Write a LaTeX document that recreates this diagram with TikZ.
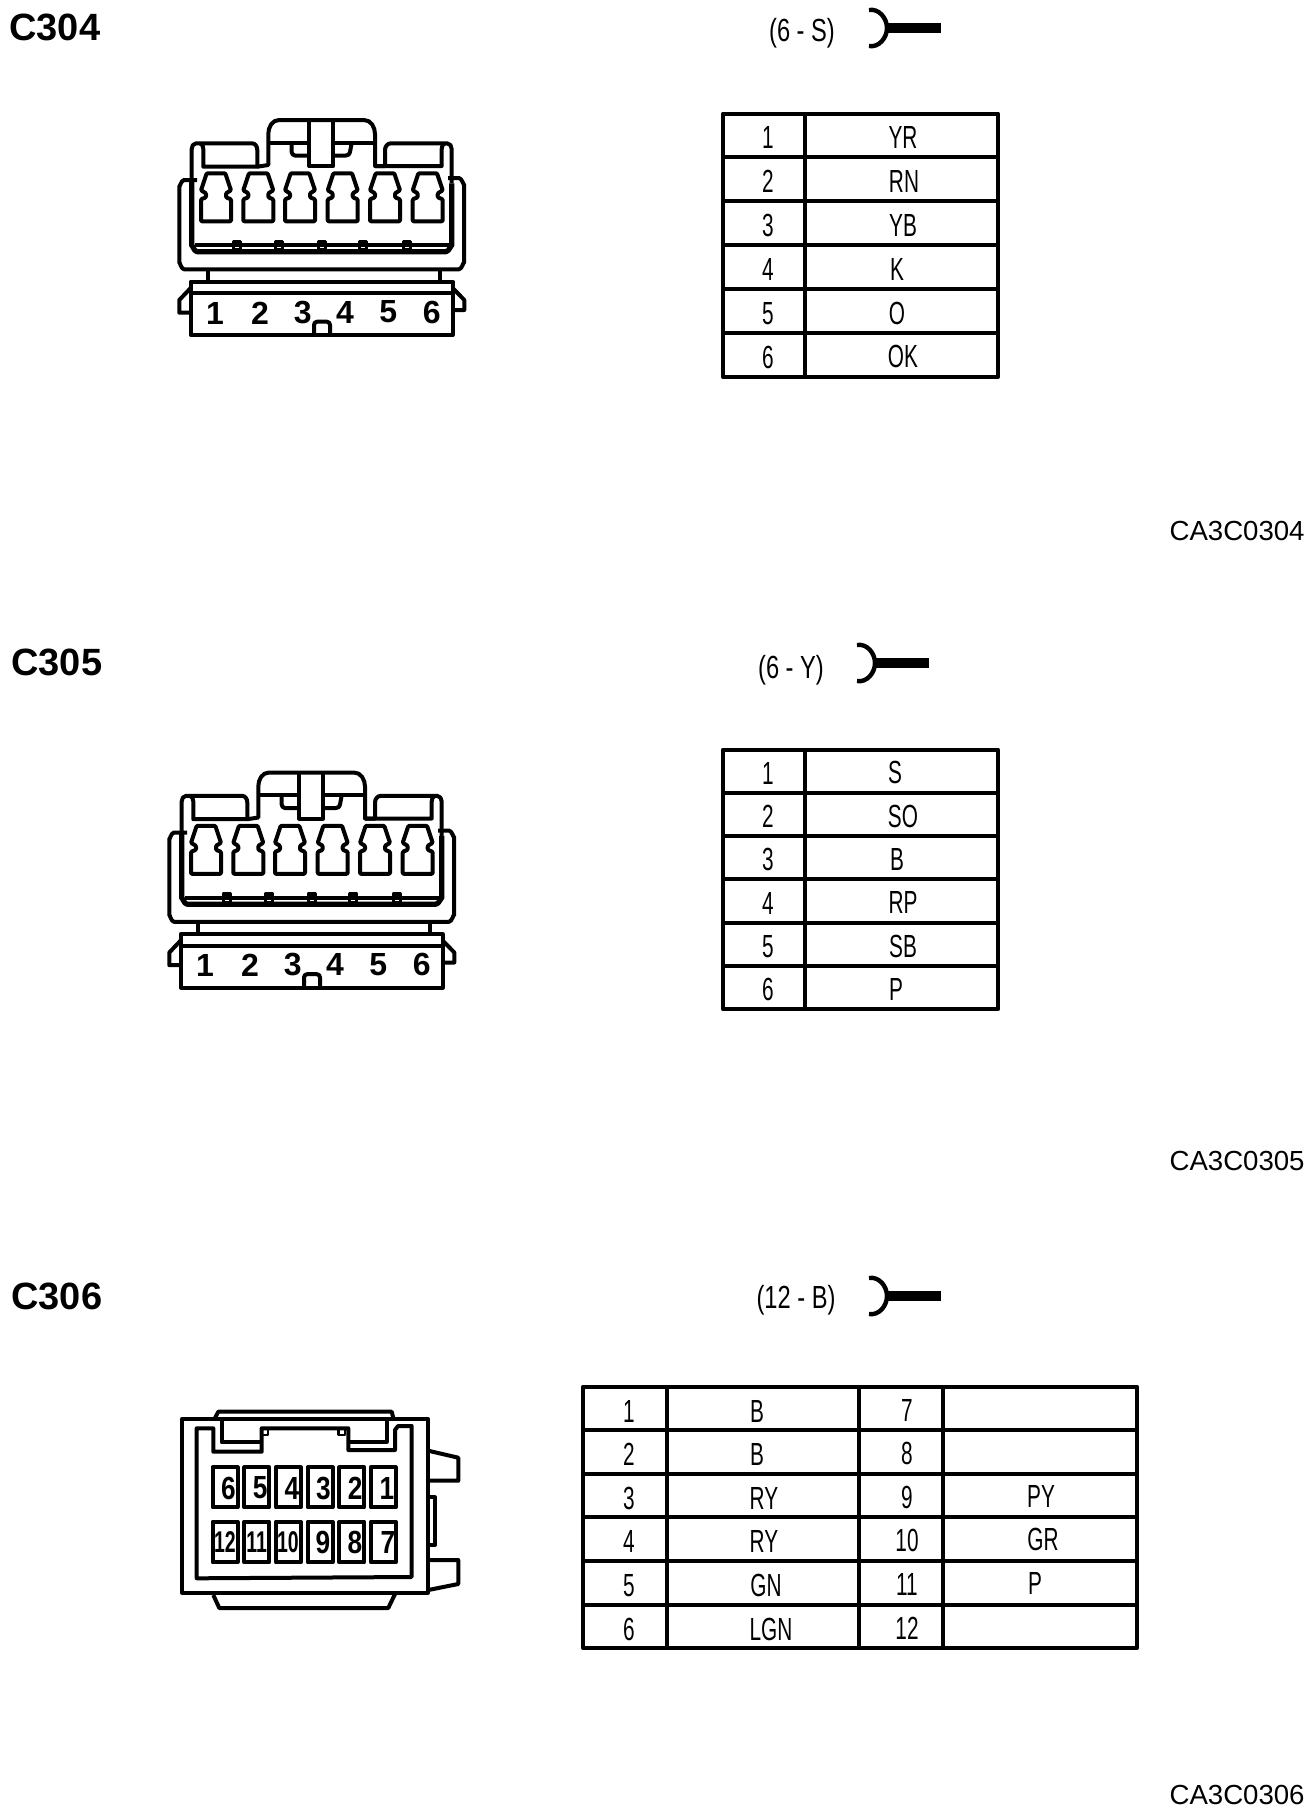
\documentclass[tikz,border=0pt]{standalone}
\usepackage{fontspec}
\setmainfont{Liberation Sans}
\newfontfamily\narrowfont[FakeStretch=0.65]{Liberation Sans}
\newfontfamily\plugfont[FakeStretch=0.74]{Liberation Sans}
\newfontfamily\slimfont[FakeStretch=0.82]{Liberation Sans}
\usepackage{tikz}
\tikzset{
  inkline/.style={line width=2pt,line join=round},
  title/.style={inner sep=0pt,anchor=west,font=\fontsize{19}{19}\selectfont\bfseries},
  refcode/.style={inner sep=0pt,anchor=east,font=\fontsize{13.8}{14}\selectfont},
  cond/.style={inner sep=0pt,font=\fontsize{16}{16}\narrowfont},
  plugtext/.style={inner sep=0pt,font=\fontsize{16}{16}\plugfont},
  pinnum/.style={inner sep=0pt,font=\fontsize{16}{16}\selectfont\bfseries},
  smallnum/.style={inner sep=0pt,font=\fontsize{16}{16}\slimfont\bfseries},
}
\begin{document}
\begin{tikzpicture}[x=0.5pt,y=-0.5pt]
  \useasboundingbox (0,0) rectangle (1312,1812);
  % titles, plug symbols and codes
  \foreach \tag/\tx/\ty/\plug/\px/\py/\sx/\sy/\cy in {304/9/27/{(6 - S)}/802/33/0/28/531,305/11/662/{(6 - Y)}/791/670/-12/663/1160.5,306/11/1296/{(12 - B)}/796/1300/0/1296/1795}{
    \node[title] (title\tag) at (\tx,\ty) {C\tag};
    \node[plugtext] (plug\tag) at (\px,\py) {\plug};
    \node[refcode] (code\tag) at (1305,\cy) {CA3C0\tag};
    \begin{scope}[xshift=\sx*0.5pt,yshift=-\sy*0.5pt]
      \draw[inkline,line width=2.2pt] (869,-18) to[out=10,in=90] (887,0) to[out=-90,in=-10] (869,18);
      \draw[line width=5pt] (887,0)--(941,0);
    \end{scope}
  }
  % the two six-way connectors
  \foreach \cx/\cy in {0/0,-10/652.5}{
    \begin{scope}[xshift=\cx*0.5pt,yshift=-\cy*0.5pt,inkline]
      \draw (191.7,181.7)--(191.7,149) to[out=90,in=180] (196,143.3)--(252,143.3) to[out=0,in=90] (257.3,150)--(257.3,166.7)--(203.3,166.7)--(203.3,149) to[out=90,in=-20] (200,143.3);
      \draw (257.3,166.7)--(268.3,165)--(268.3,134) to[out=90,in=180] (279,120)--(364,120) to[out=0,in=90] (375,134)--(375,166)--(441.7,166)--(441.7,149) to[out=90,in=200] (445,143.3);
      \draw (375,166)--(385,166)--(385,150) to[out=90,in=180] (391,143.3)--(447,143.3) to[out=0,in=90] (451.7,149)--(451.7,183.3);
      \draw (268.3,142.7)--(309.3,142.7) (333.3,142.7)--(375,142.7);
      \draw (309.3,121)--(309.3,166)--(333.3,166)--(333.3,121);
      \draw (291.7,143)--(291.7,152) to[out=-90,in=180] (295,155.5)--(309.3,155.5);
      \draw (351.7,143)--(350,152) to[out=-90,in=0] (346,155.5)--(333.3,155.5);
      % pin cavities
      \foreach \p in {216,258.3,300,342.7,385,427.7}{
        \draw[shift={(\p*0.5pt,-173.3*0.5pt)},rounded corners=0.5pt] (-9.3,0)--(9.3,0)--(15,17)--(10,20)--(10,24)--(15,26)--(15,48)--(-15,48)--(-15,26)--(-10,24)--(-10,20)--(-15,17)--cycle;
      }
      % body and rail
      \draw[line width=2.6pt] (191.7,181.7)--(191.7,246) to[out=90,in=180] (197,251.7)--(446,251.7) to[out=0,in=90] (451.7,246)--(451.7,183.3);
      \draw (195,245)--(449,245);
      \foreach \p in {236.7,279,321.7,363.3,406.7}{
        \draw[line width=1.6pt] (\p-3.5,241.5) rectangle (\p+3.5,250);
      }
      \draw (197,180)--(184,180) to[out=180,in=-90] (179.3,186)--(179.3,263) to[out=90,in=180] (184,269.3)--(459,269.3) to[out=0,in=90] (464,263)--(464,184) to[out=-90,in=0] (459,178)--(448,178);
      \draw (208.3,270)--(208.3,281.7) (440,270)--(440,281.7);
      % lower housing
      \draw (190.7,281.7) rectangle (452.7,335);
      \draw (190.7,293.3)--(452.7,293.3);
      \draw (190.7,288)--(179.3,300)--(179.3,312.7)--(190.7,312.7);
      \draw (452.7,288)--(464.3,300)--(464.3,310)--(452.7,310);
      \draw (314,335)--(314,325) to[out=90,in=180] (317,321.7)--(327,321.7) to[out=0,in=90] (330,325)--(330,335);
      \foreach \n/\x/\y in {1/215/313,2/260/313,3/302.7/312,4/345/312,5/388.3/312,6/431.7/312}{
        \node[pinnum] (num\cx n\n) at (\x,\y) {\n};
      }
    \end{scope}
  }
  % six-way wire tables
  \foreach \tag/\ttop/\rh in {304/113.5/43.9,305/749.5/43.3}{
    \draw[inkline] (723,\ttop) rectangle (998,\ttop+6*\rh);
    \draw[inkline] (805,\ttop)--(805,\ttop+6*\rh);
    \foreach \r in {1,...,5}{
      \draw[inkline] (723,\ttop+\r*\rh)--(998,\ttop+\r*\rh);
    }
    \foreach \r in {1,...,6}{
      \node[cond] (no\tag r\r) at (768,\ttop+\r*\rh-19.5) {\r};
    }
  }
  \foreach \r/\wire/\x in {1/YR/903,2/RN/904,3/YB/903,4/K/897,5/O/897,6/OK/903}{
    \node[cond] (wireA\r) at (\x,113.5+\r*43.9-20) {\wire};
  }
  \foreach \r/\wire/\x in {1/S/895,2/SO/903,3/B/897,4/RP/903,5/SB/903,6/P/896}{
    \node[cond] (wireB\r) at (\x,749.5+\r*43.3-20) {\wire};
  }
  % twelve-way connector
  \begin{scope}[inkline]
    \draw (181.7,1419.3) rectangle (428.3,1592.5);
    \draw (196.7,1578.3)--(196.7,1428.3)--(213.3,1428.3)--(213.3,1451.7)--(261.7,1451.7)--(261.7,1428.3)--(348.3,1428.3)--(348.3,1450)--(395,1450)--(395,1430)--(398,1426)--(411.7,1426)--(411.7,1577)--cycle;
    \draw (215,1418)--(218.3,1411.7)--(391.7,1411.7)--(393.3,1418);
    \draw (221.7,1420)--(221.7,1442.3)--(260,1442.3);
    \draw (386.7,1420)--(386.7,1441.7)--(349.3,1441.7);
    \draw[line width=1.2pt] (262,1428.5) rectangle (268,1435) (338.5,1428.5) rectangle (345,1435);
    \draw (213.3,1595)--(219.3,1608)--(388.3,1608)--(395,1594);
    \draw (428.3,1450.7)--(458.3,1457.7)--(458.3,1480.7)--(428.3,1480.7);
    \draw (428.3,1497.3)--(435,1497.3)--(435,1545)--(428.3,1545);
    \draw (428.3,1560)--(458.3,1560)--(458.3,1584)--(428.3,1590);
    \foreach \top/\bot/\x in {6/12/225,5/11/256.7,4/10/288.3,3/9/320,2/8/351.7,1/7/383.3}{
      \draw (\x-12.5,1467.3) rectangle (\x+12.5,1507.3);
      \draw (\x-12.5,1521.7) rectangle (\x+12.5,1562.3);
      \node[smallnum] (pin\top) at (\x+3.5,1488) {\top};
    }
    \foreach \bot/\x in {12/225,11/256.7,10/288}{
      \node[cond,font=\fontsize{15}{15}\narrowfont\bfseries] (pin\bot) at (\x,1542) {\bot};
    }
    \foreach \bot/\x in {9/323,8/355,7/388}{
      \node[smallnum] (pin\bot) at (\x,1542) {\bot};
    }
  \end{scope}
  % twelve-way wire table
  \draw[inkline] (583,1386.5) rectangle (1137,1648);
  \foreach \x in {666.5,859,943}{
    \draw[inkline] (\x,1386.5)--(\x,1648);
  }
  \foreach \r in {1,...,5}{
    \draw[inkline] (583,1386.5+\r*43.6)--(1137,1386.5+\r*43.6);
  }
  \foreach \r/\wire/\x in {1/B/757,2/B/757,3/RY/764,4/RY/764,5/GN/766,6/LGN/771}{
    \node[cond] (noC\r) at (629,1386.5+\r*43.6-19) {\r};
    \node[cond] (wireC\r) at (\x,1386.5+\r*43.6-19) {\wire};
  }
  \foreach \r/\n in {1/7,2/8,3/9,4/10,5/11,6/12}{
    \node[cond] (noD\r) at (907,1386.5+\r*43.6-20) {\n};
  }
  \foreach \r/\wire/\x in {3/PY/1041,4/GR/1043,5/P/1035}{
    \node[cond] (wireD\r) at (\x,1386.5+\r*43.6-21) {\wire};
  }
\end{tikzpicture}
\end{document}
